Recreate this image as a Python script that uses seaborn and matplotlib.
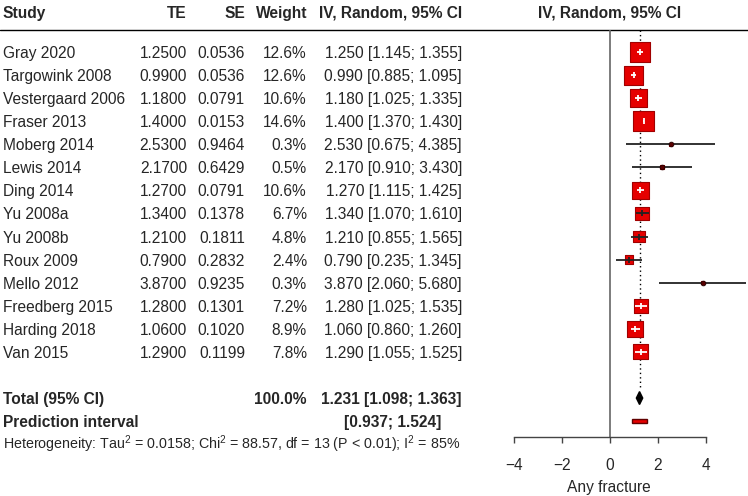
import matplotlib
matplotlib.use("Agg")
import matplotlib.pyplot as plt
import matplotlib.transforms as mtransforms
from matplotlib.patches import Rectangle
import numpy as np
import pandas as pd
import seaborn as sns

studies = [
    "Gray 2020", "Targowink 2008", "Vestergaard 2006", "Fraser 2013",
    "Moberg 2014", "Lewis 2014", "Ding 2014", "Yu 2008a", "Yu 2008b",
    "Roux 2009", "Mello 2012", "Freedberg 2015", "Harding 2018", "Van 2015",
]
te = [1.25, 0.99, 1.18, 1.40, 2.53, 2.17, 1.27, 1.34, 1.21, 0.79, 3.87, 1.28, 1.06, 1.29]
se = [0.0536, 0.0536, 0.0791, 0.0153, 0.9464, 0.6429, 0.0791, 0.1378, 0.1811,
      0.2832, 0.9235, 0.1301, 0.1020, 0.1199]
weight = [12.6, 12.6, 10.6, 14.6, 0.3, 0.5, 10.6, 6.7, 4.8, 2.4, 0.3, 7.2, 8.9, 7.8]
lower = [1.145, 0.885, 1.025, 1.370, 0.675, 0.910, 1.115, 1.070, 0.855, 0.235,
         2.060, 1.025, 0.860, 1.055]
upper = [1.355, 1.095, 1.335, 1.430, 4.385, 3.430, 1.425, 1.610, 1.565, 1.345,
         5.680, 1.535, 1.260, 1.525]

total_weight = 100.0
total_te, total_lo, total_hi = 1.231, 1.098, 1.363
pred_lo, pred_hi = 0.937, 1.524
x_ticks = [-4, -2, 0, 2, 4]
het_text = (r"Heterogeneity: Tau$^{2}$ = 0.0158; Chi$^{2}$ = 88.57, df = 13 (P < 0.01); "
            r"I$^{2}$ = 85%")

sns.set_theme(style="white")
plt.rcParams["font.family"] = ["Liberation Sans", "DejaVu Sans"]
plt.rcParams["mathtext.fontset"] = "custom"
plt.rcParams["mathtext.rm"] = "Liberation Sans"
plt.rcParams["mathtext.it"] = "Liberation Sans:italic"
plt.rcParams["mathtext.default"] = "regular"

FS = 11.2
SQ_RED = "#e50000"
SQ_EDGE = "#a00000"
VA = "center_baseline"

df = pd.DataFrame({"study": studies, "te": te, "se": se, "weight": weight,
                   "lower": lower, "upper": upper})
df["row"] = np.arange(len(df))
total_row = len(df) + 1
pred_row = len(df) + 2

fig = plt.figure(figsize=(7.48, 4.96), dpi=100)
W, H = 748, 496

# text panel in pixel coordinates
ax_txt = fig.add_axes([0, 0, 1, 1])
ax_txt.set_xlim(0, W)
ax_txt.set_ylim(H, 0)
ax_txt.axis("off")

# forest panel: 24 px per unit, zero at x=610
px_unit = 24.0
x0 = 610
left_px, top_px, bot_px = 470, 30, 437
ax = fig.add_axes([left_px / W, 1 - bot_px / H, (W - left_px) / W, (bot_px - top_px) / H])
ax.set_xlim((left_px - x0) / px_unit, (W - x0) / px_unit)
row_px, row0_px = 23.07, 52
ax.set_ylim((bot_px - row0_px) / row_px, (top_px - row0_px) / row_px)
ax.patch.set_alpha(0)
for s in ["top", "right", "left"]:
    ax.spines[s].set_visible(False)
ax.spines["bottom"].set_bounds(x_ticks[0], x_ticks[-1])
ax.spines["bottom"].set_color("#444444")
ax.spines["bottom"].set_linewidth(1.0)
ax.set_xticks(x_ticks)
ax.set_xticklabels([str(t).replace("-", "\u2212") for t in x_ticks])
ax.tick_params(axis="x", bottom=True, direction="out", length=4, width=1.0,
               color="#444444", labelsize=FS, pad=11)
ax.set_yticks([])
ax.set_xlabel("Any fracture", fontsize=FS, labelpad=5)

# reference lines
ax.axvline(0, color="#666666", lw=1.2, zorder=1)
ax.vlines(total_te, (top_px - row0_px) / row_px, total_row - 0.45, colors="black",
          linestyles=(0, (1, 2.2)), lw=1.0, zorder=1)

# squares sized by weight (area proportional)
k = 15.0
sns.scatterplot(data=df, x="te", y="row", size="weight",
                sizes=(k * min(weight), k * max(weight)),
                size_norm=(min(weight), max(weight)),
                marker="s", color=SQ_RED, edgecolor=SQ_EDGE, linewidth=0.8,
                legend=False, ax=ax, zorder=2)

# CI lines: white if inside square, dark otherwise
for _, r in df.iterrows():
    side_px = np.sqrt(k * r["weight"]) * 100 / 72
    ci_px = (r["upper"] - r["lower"]) * px_unit
    inside = ci_px < 0.9 * side_px
    col = "white" if inside else "#222222"
    ax.hlines(r["row"], r["lower"], r["upper"], colors=col, lw=1.3, zorder=3)
    if side_px > 6:
        ax.plot([r["te"]], [r["row"]], marker="|", ms=5, mew=1.3, color=col, zorder=3)
    else:
        ax.plot([r["te"]], [r["row"]], marker="o", ms=3.4, mew=0.6,
                color="#5a0000", mec="#220000", zorder=4)

# summary diamond
h = 0.28
ax.fill([total_lo, total_te, total_hi, total_te],
        [total_row, total_row - h, total_row, total_row + h],
        color="black", zorder=3)

# prediction interval
ax.add_patch(Rectangle((pred_lo, pred_row - 0.1), pred_hi - pred_lo, 0.2,
                       facecolor=SQ_RED, edgecolor="#600000", lw=1.0, zorder=3))

# text columns
tr = mtransforms.blended_transform_factory(ax_txt.transData, ax.transData)
col_study, col_te, col_se, col_w, col_ci = 3, 187, 245, 307, 462

ax_txt.text(col_study, 12, "Study", fontsize=FS, fontweight="bold", va=VA, ha="left")
ax_txt.text(col_te, 12, "TE", fontsize=FS, fontweight="bold", va=VA, ha="right")
ax_txt.text(col_se, 12, "SE", fontsize=FS, fontweight="bold", va=VA, ha="right")
ax_txt.text(col_w, 12, "Weight", fontsize=FS, fontweight="bold", va=VA, ha="right")
ax_txt.text(col_ci, 12, "IV, Random, 95% CI", fontsize=FS, fontweight="bold",
            va=VA, ha="right")
ax_txt.text(x0, 12, "IV, Random, 95% CI", fontsize=FS, fontweight="bold",
            va=VA, ha="center")
ax_txt.axhline(top_px, color="black", lw=1.0)

for _, r in df.iterrows():
    y = r["row"]
    ax_txt.text(col_study, y, r["study"], transform=tr, fontsize=FS, va=VA, ha="left")
    ax_txt.text(col_te, y, f"{r['te']:.4f}", transform=tr, fontsize=FS, va=VA, ha="right")
    ax_txt.text(col_se, y, f"{r['se']:.4f}", transform=tr, fontsize=FS, va=VA, ha="right")
    ax_txt.text(col_w, y, f"{r['weight']:.1f}%", transform=tr, fontsize=FS, va=VA, ha="right")
    ax_txt.text(col_ci, y, f"{r['te']:.3f} [{r['lower']:.3f}; {r['upper']:.3f}]",
                transform=tr, fontsize=FS, va=VA, ha="right")

ax_txt.text(col_study, total_row, "Total (95% CI)", transform=tr, fontsize=FS,
            fontweight="bold", va=VA, ha="left")
ax_txt.text(col_w, total_row, f"{total_weight:.1f}%", transform=tr, fontsize=FS,
            fontweight="bold", va=VA, ha="right")
ax_txt.text(col_ci, total_row, f"{total_te:.3f} [{total_lo:.3f}; {total_hi:.3f}]",
            transform=tr, fontsize=FS, fontweight="bold", va=VA, ha="right")
ax_txt.text(col_study, pred_row, "Prediction interval", transform=tr, fontsize=FS,
            fontweight="bold", va=VA, ha="left")
ax_txt.text(col_ci - 21, pred_row, f"[{pred_lo:.3f}; {pred_hi:.3f}]", transform=tr,
            fontsize=FS, fontweight="bold", va=VA, ha="right")
ax_txt.text(col_study, pred_row + 0.85, het_text, transform=tr, fontsize=10.3,
            va=VA, ha="left")

fig.savefig("out.png", dpi=100, facecolor="white")
